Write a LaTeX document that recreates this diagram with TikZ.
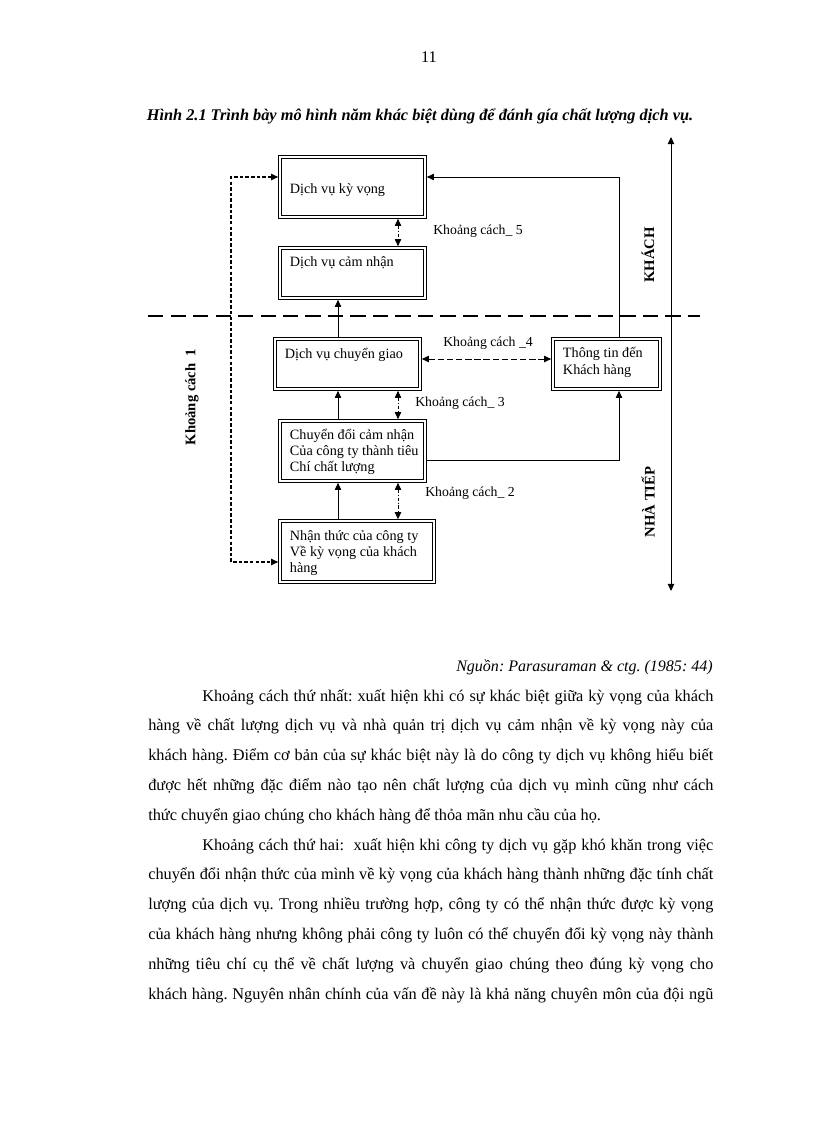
\documentclass[tikz,border=0pt]{standalone}
\usepackage{fontspec}
\setmainfont{Liberation Serif}
\usetikzlibrary{arrows.meta}
\frenchspacing

\tikzset{
  >={Triangle[length=5pt,width=4.5pt]},
  gapbox/.style={draw, double, double distance=1.2pt, line width=0.7pt,
    inner xsep=0.25cm, inner ysep=0pt, outer sep=1.3pt, align=flush left,
    text width=3.125cm, text height=0.46cm,
    font=\fontsize{10.1}{11.4}\selectfont},
  gaplabel/.style={anchor=base west, inner sep=0pt, font=\fontsize{9.8}{11.4}\selectfont},
  sidelabel/.style={rotate=90, font=\bfseries\fontsize{10.4}{11.4}\selectfont},
  flowarrow/.style={line width=0.6pt, ->},
  gaparrow/.style={line width=0.6pt, dash pattern=on 2.5pt off 1.2pt on 0.7pt off 1.2pt, <->},
  dasharrow/.style={line width=0.7pt, dash pattern=on 4.5pt off 2pt, <->},
}

\begin{document}
\begin{tikzpicture}[x=0.025cm, y=-0.025cm]
		\useasboundingbox (0,0) rectangle (816,1123);
		
		%%%%% HEAD %%%%%
		\node[anchor=base, font=\fontsize{11.6}{14}\selectfont] (pageno) at (429,62.5) {11};
		\node[anchor=base, font=\bfseries\itshape\fontsize{11.6}{14}\selectfont] (caption) at (420,121) {Hình 2.1 Trình bày mô hình năm khác biệt dùng để đánh gía chất lượng dịch vụ.};
		
		%%%%% BOXES %%%%%
		\node[gapbox, text height=0.9cm, text depth=0.6cm] (expect) at (352.5,187) {Dịch vụ kỳ vọng};
		\node[gapbox, text depth=0.79cm] (perceive) at (352.5,273) {Dịch vụ cảm nhận};
		\node[gapbox, text height=0.48cm, text depth=0.77cm] (deliver) at (347.5,364) {Dịch vụ chuyển giao};
		\node[gapbox, text depth=1.04cm] (convert) at (352.5,451) {\mbox{Chuyển đổi cảm nhận}\\\mbox{Của công ty thành tiêu}\\Chí chất lượng};
		\node[gapbox, text width=3.35cm, text height=0.48cm, text depth=1.04cm] (aware) at (357,551.5) {\mbox{Nhận thức của công ty}\\\mbox{Về kỳ vọng của khách}\\hàng};
		\node[gapbox, text width=2.175cm, text depth=0.79cm, font=\fontsize{10.1}{12.1}\selectfont] (inform) at (606.5,364) {\mbox{Thông tin đến}\\\mbox{Khách hàng}};
		
		\coordinate (midcol) at (338,0);
		\coordinate (gapcol) at (398,0);
		\coordinate (infocol) at (619,0);
		\coordinate (leftcol) at (231,0);
		\coordinate (toprow) at (0,177);
		\coordinate (lowrow) at (0,562);
		\coordinate (linkrow) at (0,460);
		\coordinate (mediarow) at (0,359);
		
		%%%%% ARROWS %%%%%
		\draw[flowarrow] (deliver.north -| midcol) -- (perceive.south -| midcol);
		\draw[flowarrow] (convert.north -| midcol) -- (deliver.south -| midcol);
		\draw[flowarrow] (aware.north -| midcol) -- (convert.south -| midcol);
		
		\draw[gaparrow] (expect.south -| gapcol) -- (perceive.north -| gapcol);
		\draw[gaparrow] (deliver.south -| gapcol) -- (convert.north -| gapcol);
		\draw[gaparrow] (convert.south -| gapcol) -- (aware.north -| gapcol);
		
		\draw[flowarrow] (inform.north -| infocol) |- (expect.east |- toprow);
		\draw[flowarrow] (convert.east |- linkrow) -| (inform.south -| infocol);
		\draw[dasharrow] (deliver.east |- mediarow) -- (inform.west |- mediarow);
		\draw[line width=0.9pt, dash pattern=on 2.5pt off 1.5pt, <->] (expect.west |- toprow) -| (leftcol |- lowrow) -- (aware.west |- lowrow);
		
		%%%%% LABELS %%%%%
		\node[gaplabel] (gapfive) at (433,234.3) {Khoảng cách\_ 5};
		\node[gaplabel] (gapfour) at (443,346.3) {Khoảng cách \_4};
		\node[gaplabel] (gapthree) at (415,406.3) {Khoảng cách\_ 3};
		\node[gaplabel] (gaptwo) at (425,496.3) {Khoảng cách\_ 2};
		
		\node[sidelabel] (gapone) at (192,397) {Khoảng cách\ \ 1};
		\node[sidelabel] (client) at (648,255) {KHÁCH};
		\node[sidelabel] (supplier) at (648,502) {NHÀ TIẾP};
		
		\draw[line width=1.4pt, dash pattern=on 11pt off 5pt] (148,316) -- (700,316);
		\draw[line width=0.7pt, <->] (671,137) -- (671,591);
		
		%%%%% TEXT %%%%%
		\node[anchor=base east, inner sep=0pt, font=\itshape\fontsize{11.4}{14}\selectfont] (source) at (713,671) {Nguồn: Parasuraman \& ctg. (1985: 44)};
		
		\node[anchor=base west, text width=14.125cm, align=justify, inner sep=0pt, font=\fontsize{11.6}{21.2}\selectfont] (body) at (148,701) {%
		\hspace*{1.35cm}Khoảng cách thứ nhất: xuất hiện khi có sự khác biệt giữa kỳ vọng của khách\linebreak
		hàng về chất lượng dịch vụ và nhà quản trị dịch vụ cảm nhận về kỳ vọng này của\linebreak
		khách hàng. Điểm cơ bản của sự khác biệt này là do công ty dịch vụ không hiểu biết\linebreak
		được hết những đặc điểm nào tạo nên chất lượng của dịch vụ mình cũng như cách\linebreak
		thức chuyển giao chúng cho khách hàng để thỏa mãn nhu cầu của họ.\par
		\hspace*{1.35cm}Khoảng cách thứ hai:\ \ xuất hiện khi công ty dịch vụ gặp khó khăn trong việc\linebreak
		chuyển đổi nhận thức của mình về kỳ vọng của khách hàng thành những đặc tính chất\linebreak
		lượng của dịch vụ. Trong nhiều trường hợp, công ty có thể nhận thức được kỳ vọng\linebreak
		của khách hàng nhưng không phải công ty luôn có thể chuyển đổi kỳ vọng này thành\linebreak
		những tiêu chí cụ thể về chất lượng và chuyển giao chúng theo đúng kỳ vọng cho\linebreak
		khách hàng. Nguyên nhân chính của vấn đề này là khả năng chuyên môn của đội ngũ{\parfillskip=0pt\par}};
		
	\end{tikzpicture}
\end{document}
